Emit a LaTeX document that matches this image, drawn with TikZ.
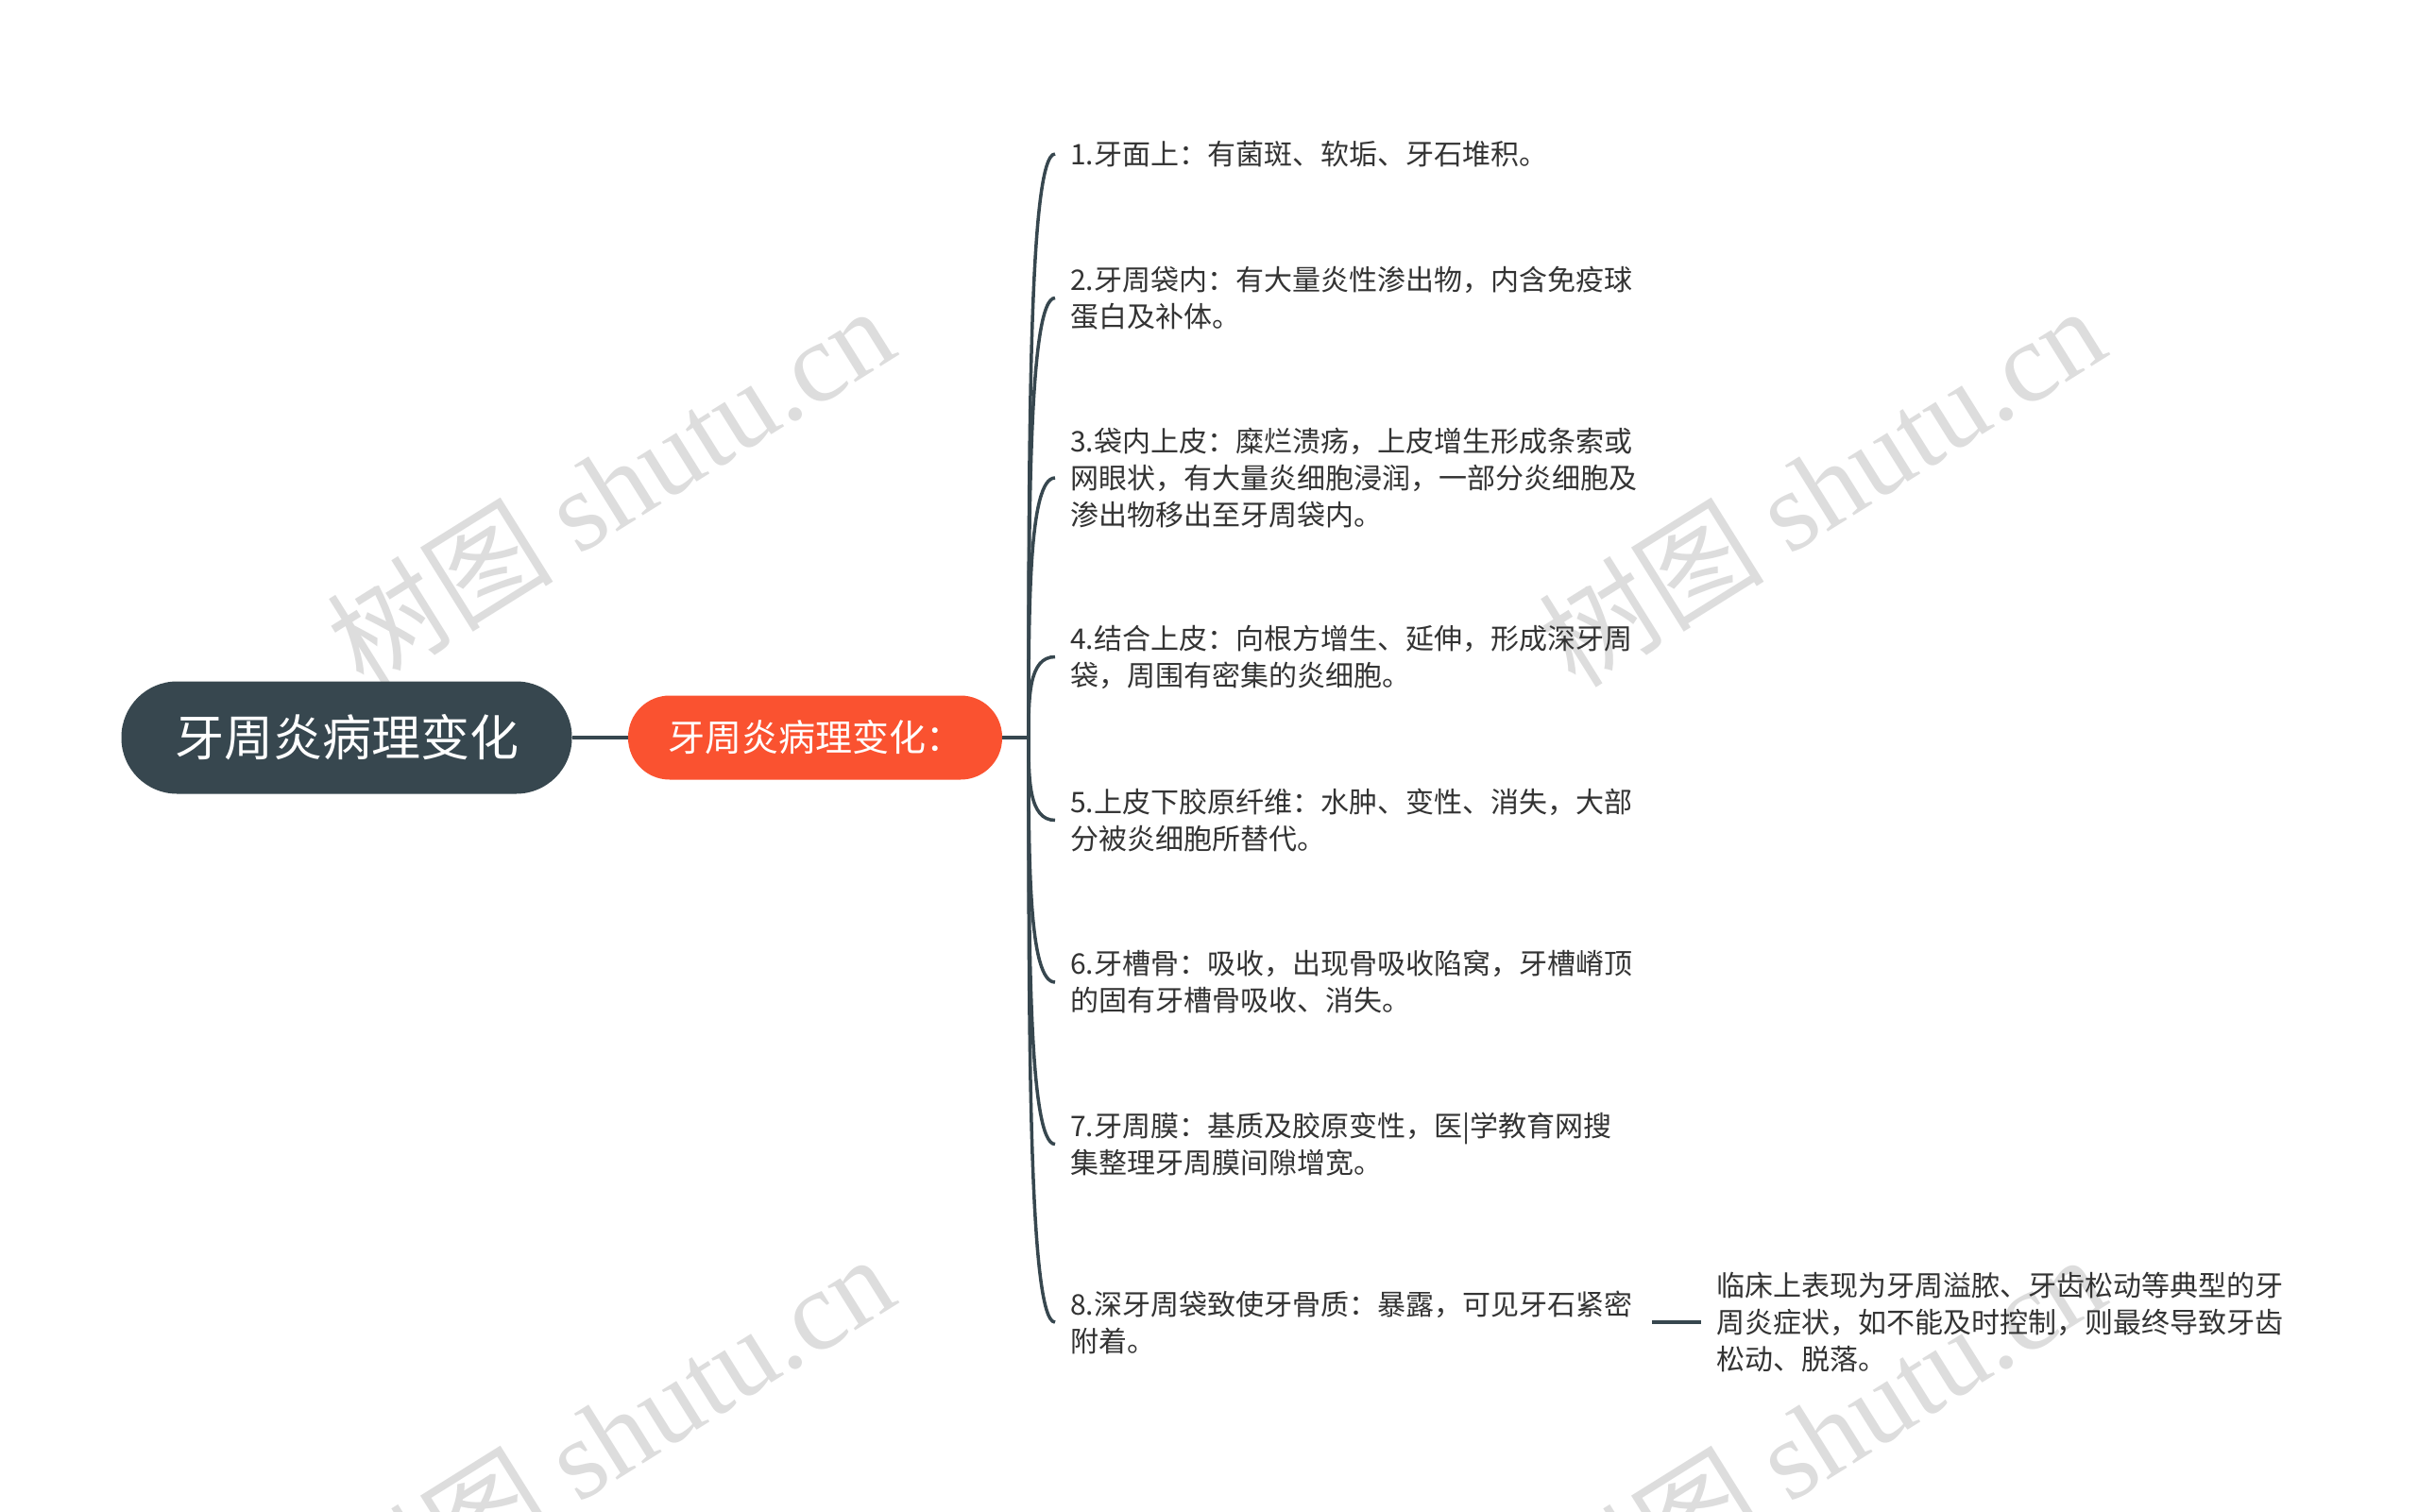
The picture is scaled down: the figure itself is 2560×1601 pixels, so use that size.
\documentclass[tikz,border=0pt]{standalone}
\usepackage{fontspec}
\setmainfont{Noto Sans CJK SC}
\newfontfamily\wmlatin{Liberation Serif}
\usetikzlibrary{calc}
\definecolor{rootc}{HTML}{37474F}
\definecolor{orangec}{HTML}{FA5230}
\definecolor{linec}{HTML}{37474F}
\definecolor{txtc}{HTML}{333333}
\definecolor{wmc}{HTML}{DDDDDD}
\begin{document}
\begin{tikzpicture}[x=1pt,y=-1pt,
  conn/.style={draw=linec, line width=4pt},
  branch/.style={draw=linec, line width=3.5pt},
  leaf/.style={anchor=west, inner xsep=16pt, inner ysep=4pt, align=left, text width=600pt, font=\fontsize{30}{39}\selectfont, text=txtc},
  wm/.style={rotate=32, text=wmc, font=\fontsize{120}{125}\selectfont, inner sep=0pt}]
\useasboundingbox[fill=white] (0,0) rectangle (2560,1601);
% watermarks
\node[wm] (wm1) at (646,514) {树图 {\wmlatin shutu.cn}};
\node[wm] (wm2) at (1928,514) {树图 {\wmlatin shutu.cn}};
\node[wm] (wm3) at (646,1518) {树图 {\wmlatin shutu.cn}};
\node[wm] (wm4) at (1928,1518) {树图 {\wmlatin shutu.cn}};
% central nodes
\node[fill=rootc, rounded corners=59pt, minimum width=477pt, minimum height=119pt, inner sep=0pt, text=white, font=\fontsize{52}{60}\selectfont] (root) at (367,781) {牙周炎病理变化};
\node[fill=orangec, rounded corners=44pt, minimum width=396pt, minimum height=89pt, inner sep=0pt, text=white, font=\fontsize{39}{46}\selectfont] (main) at (863,781) {牙周炎病理变化：};
\coordinate (hub) at (1089,781);
\draw[conn] (root.east) -- (main.west);
\draw[conn] (main.east) -- (hub);
% leaves
\node[leaf] (i1) at (1117,163) {1.牙面上：有菌斑、软垢、牙石堆积。};
\node[leaf] (i2) at (1117,315.5) {2.牙周袋内：有大量炎性渗出物，内含免疫球\\蛋白及补体。};
\node[leaf] (i3) at (1117,506) {3.袋内上皮：糜烂溃疡，上皮增生形成条索或\\网眼状，有大量炎细胞浸润，一部分炎细胞及\\渗出物移出至牙周袋内。};
\node[leaf] (i4) at (1117,695.5) {4.结合上皮：向根方增生、延伸，形成深牙周\\袋，周围有密集的炎细胞。};
\node[leaf] (i5) at (1117,868.5) {5.上皮下胶原纤维：水肿、变性、消失，大部\\分被炎细胞所替代。};
\node[leaf] (i6) at (1117,1040) {6.牙槽骨：吸收，出现骨吸收陷窝，牙槽嵴顶\\的固有牙槽骨吸收、消失。};
\node[leaf] (i7) at (1117,1211.5) {7.牙周膜：基质及胶原变性，医|学教育网搜\\集整理牙周膜间隙增宽。};
\node[leaf] (i8) at (1117,1400) {8.深牙周袋致使牙骨质：暴露，可见牙石紧密\\附着。};
\node[leaf, text width=620pt] (c8) at (1801,1400) {临床上表现为牙周溢脓、牙齿松动等典型的牙\\周炎症状，如不能及时控制，则最终导致牙齿\\松动、脱落。};
% branch connectors
\foreach \n in {i1,i2,i3,i4,i5,i6,i7,i8}{
  \draw[branch] (hub) .. controls ($(hub)!0.5!(hub |- \n.west)$) and (hub |- \n.west) .. (\n.west);
}
\draw[conn] (i8.east) -- (c8.west);
\end{tikzpicture}
\end{document}
